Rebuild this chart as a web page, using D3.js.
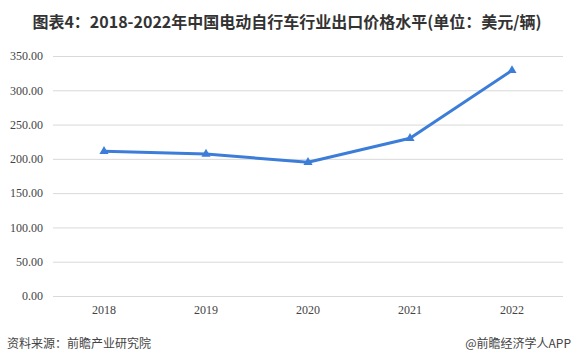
<!DOCTYPE html>
<html>
<head>
<meta charset="utf-8">
<script src="https://cdn.jsdelivr.net/npm/d3@7"></script>
<style>
  body { margin: 0; background: #fff; }
</style>
</head>
<body>
<div id="chart"></div>
<script>
// data
var years = ["2018", "2019", "2020", "2021", "2022"];
var prices = [211, 207, 195, 230, 329];
var yTicks = [0, 50, 100, 150, 200, 250, 300, 350];

var width = 577, height = 364;
var margin = {top: 56, right: 14, bottom: 68, left: 53};
var lineColor = "#3b7dd8";
var serif = "'Liberation Serif', 'Times New Roman', serif";
var sans = "'Noto Sans CJK SC', 'Microsoft YaHei', sans-serif";

var svg = d3.select("#chart").append("svg")
    .attr("width", width)
    .attr("height", height);

var x = d3.scaleBand()
    .domain(years)
    .range([margin.left, width - margin.right]);

var y = d3.scaleLinear()
    .domain([0, 350])
    .range([height - margin.bottom, margin.top]);

// title
svg.append("text")
    .attr("x", 287)
    .attr("y", 28)
    .attr("text-anchor", "middle")
    .attr("font-family", sans)
    .attr("font-weight", "bold")
    .attr("font-size", 16)
    .attr("fill", "#333")
    .text("图表4：2018-2022年中国电动自行车行业出口价格水平(单位：美元/辆)");

// gridlines + y labels
var yAxis = svg.append("g")
    .attr("transform", "translate(" + margin.left + ",0)")
    .call(d3.axisLeft(y)
        .tickValues(yTicks)
        .tickSize(-(width - margin.left - margin.right))
        .tickPadding(10)
        .tickFormat(d3.format(".2f")));
yAxis.select(".domain").remove();
yAxis.selectAll(".tick line").attr("stroke", "#d9d9d9");
yAxis.selectAll(".tick text")
    .attr("font-family", serif)
    .attr("font-size", 12)
    .attr("fill", "#444");

// x labels
var xAxis = svg.append("g")
    .attr("transform", "translate(0," + y(0) + ")")
    .call(d3.axisBottom(x).tickSize(0).tickPadding(9));
xAxis.select(".domain").remove();
xAxis.selectAll(".tick text")
    .attr("font-family", serif)
    .attr("font-size", 12)
    .attr("fill", "#444");

// line
var line = d3.line()
    .x(function(d, i) { return x(years[i]) + x.bandwidth() / 2; })
    .y(function(d) { return y(d); });

svg.append("path")
    .datum(prices)
    .attr("d", line)
    .attr("fill", "none")
    .attr("stroke", lineColor)
    .attr("stroke-width", 3)
    .attr("stroke-linejoin", "round");

svg.append("g").selectAll("path")
    .data(prices)
    .join("path")
    .attr("d", d3.symbol().type(d3.symbolTriangle).size(36))
    .attr("transform", function(d, i) {
        return "translate(" + (x(years[i]) + x.bandwidth() / 2) + "," + y(d) + ")";
    })
    .attr("fill", lineColor);

// footer
svg.append("text")
    .attr("x", 7)
    .attr("y", 348)
    .attr("font-family", sans)
    .attr("font-size", 12)
    .attr("fill", "#444")
    .text("资料来源：前瞻产业研究院");

svg.append("text")
    .attr("x", 571)
    .attr("y", 348)
    .attr("text-anchor", "end")
    .attr("font-family", sans)
    .attr("font-size", 12)
    .attr("fill", "#444")
    .text("@前瞻经济学人APP");
</script>
</body>
</html>
